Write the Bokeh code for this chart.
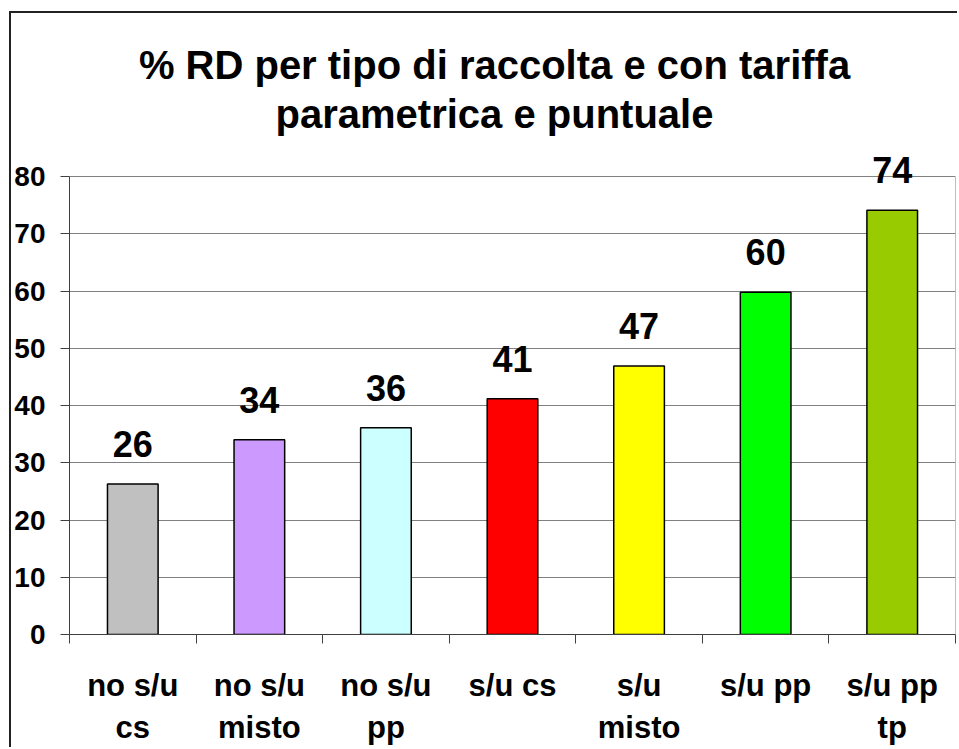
from bokeh.plotting import figure
from bokeh.models import ColumnDataSource, LabelSet, Label, FixedTicker, Range1d
from bokeh.core.properties import value
from bokeh.embed import file_html
from bokeh.resources import INLINE

categories = ["no s/u\ncs", "no s/u\nmisto", "no s/u\npp", "s/u cs", "s/u\nmisto", "s/u pp", "s/u pp\ntp"]
values = [26.3, 34.0, 36.1, 41.2, 46.9, 59.8, 74.1]
value_labels = ["26", "34", "36", "41", "47", "60", "74"]
colors = ["#C0C0C0", "#CC99FF", "#CCFFFF", "#FF0000", "#FFFF00", "#00FF00", "#99CC00"]
y_ticks = [0, 10, 20, 30, 40, 50, 60, 70, 80]
title_lines = ["% RD per tipo di raccolta e con tariffa", "parametrica e puntuale"]

FONT = "Liberation Sans"

# layout (pixels)
W, H = 948, 736
BORDER_L, BORDER_B, BORDER_R = 58, 115, 4
FRAME_H = H - BORDER_B
PLOT_AREA_H = 458          # pixel height of the 0..80 plot area
y_max = y_ticks[-1]
y_top = y_max * FRAME_H / PLOT_AREA_H

centers = [i + 0.5 for i in range(len(categories))]
x_end = len(categories)
src = ColumnDataSource(dict(x=centers, top=values, color=colors, lab=value_labels))

p = figure(width=W, height=H, output_backend="svg", toolbar_location=None,
           x_range=Range1d(0, x_end), y_range=Range1d(0, y_top),
           min_border_left=BORDER_L, min_border_right=BORDER_R,
           min_border_top=0, min_border_bottom=BORDER_B)
p.title.text = ""
p.title.visible = False
p.background_fill_color = "white"
p.border_fill_color = "white"
p.outline_line_color = None
p.styles = {"margin-left": "9px", "margin-top": "11px",
            "border-left": "2px solid #222222", "border-top": "2px solid #222222"}

# right border of plot area
p.segment(x0=[x_end], y0=[0], x1=[x_end], y1=[y_max], line_color="#808080", line_width=1)

p.vbar(x="x", top="top", bottom=0, width=0.4, source=src,
       fill_color="color", line_color="black", line_width=1.5)

labels = LabelSet(x="x", y="top", text="lab", source=src, y_offset=27,
                  text_align="center", text_baseline="alphabetic",
                  text_font=value(FONT), text_font_style="bold", text_font_size="36px",
                  text_color="black")
p.add_layout(labels)

# axes
p.xaxis.ticker = FixedTicker(ticks=centers, minor_ticks=list(range(len(categories) + 1)))
p.xaxis.major_label_overrides = {c: lab for c, lab in zip(centers, categories)}
p.xaxis.major_tick_out = 0
p.xaxis.major_tick_in = 0
p.xaxis.minor_tick_out = 9
p.xaxis.minor_tick_in = 0
p.xaxis.minor_tick_line_color = "#404040"
p.xaxis.major_label_standoff = 24
p.xaxis.major_label_text_font = FONT
p.xaxis.major_label_text_font_style = "bold"
p.xaxis.major_label_text_font_size = "31px"
p.xaxis.major_label_text_color = "black"
p.xaxis.axis_line_color = "#404040"

p.yaxis.ticker = FixedTicker(ticks=y_ticks)
p.yaxis.bounds = (0, y_max)
p.yaxis.major_tick_out = 9
p.yaxis.major_tick_in = 0
p.yaxis.minor_tick_line_color = None
p.yaxis.major_tick_line_color = "#404040"
p.yaxis.axis_line_color = "#404040"
p.yaxis.major_label_standoff = 15
p.yaxis.major_label_text_font = FONT
p.yaxis.major_label_text_font_style = "bold"
p.yaxis.major_label_text_font_size = "28px"
p.yaxis.major_label_text_color = "black"

p.xgrid.visible = False
p.ygrid.grid_line_color = "#808080"
p.ygrid.grid_line_width = 1

# title lines (screen units relative to the frame's bottom-left)
title_x = 425
title_ys = [570, 521]
for line, ty in zip(title_lines, title_ys):
    p.add_layout(Label(x=title_x, y=ty, x_units="screen", y_units="screen", text=line,
                       text_align="center", text_baseline="alphabetic",
                       text_font=FONT, text_font_style="bold", text_font_size="40px",
                       text_color="black"))

open("out.html", "w").write(file_html(p, INLINE))
